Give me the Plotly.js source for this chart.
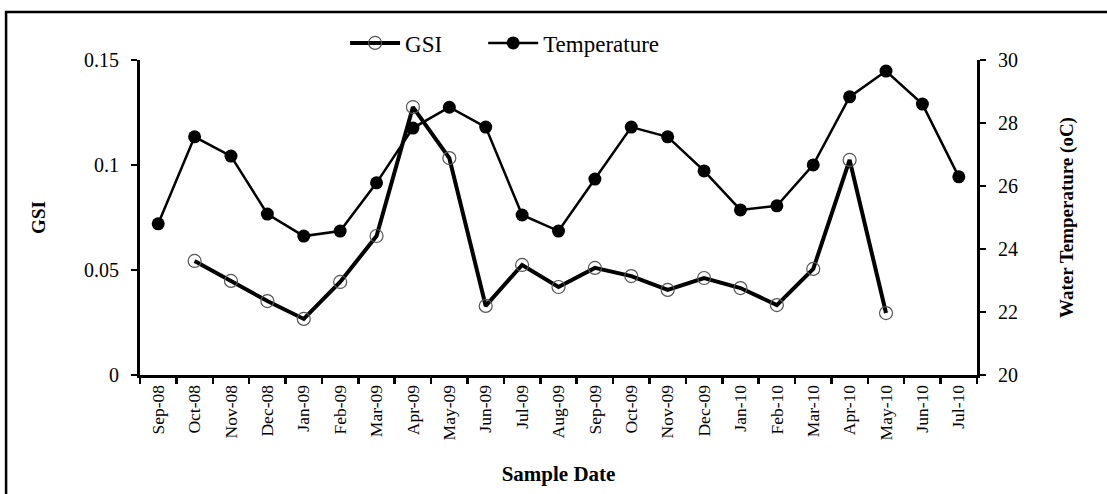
<!DOCTYPE html>
<html>
<head>
<meta charset="utf-8">
<script src="https://cdn.plot.ly/plotly-3.0.1.min.js"></script>
<style>
  html, body { margin: 0; padding: 0; background: #fff; }
  #chart { width: 1107px; height: 494px; }
</style>
</head>
<body>
<div id="chart"></div>
<script>
const months = ["Sep-08","Oct-08","Nov-08","Dec-08","Jan-09","Feb-09","Mar-09","Apr-09","May-09","Jun-09","Jul-09","Aug-09","Sep-09","Oct-09","Nov-09","Dec-09","Jan-10","Feb-10","Mar-10","Apr-10","May-10","Jun-10","Jul-10"];
const gsi = [null,0.0543,0.0448,0.0352,0.0267,0.0443,0.0662,0.1276,0.1033,0.0329,0.0524,0.0419,0.0510,0.0471,0.0405,0.0462,0.0414,0.0333,0.0505,0.1024,0.0295,null,null];
const temperature = [24.8,27.56,26.95,25.11,24.41,24.57,26.1,27.84,28.5,27.87,25.08,24.57,26.22,27.87,27.56,26.48,25.24,25.37,26.67,28.83,29.65,28.6,26.29];

const serif = "Liberation Serif";

const traces = [
  {
    name: "GSI",
    x: months, y: gsi,
    yaxis: "y2",
    legend: "legend",
    type: "scatter",
    mode: "lines+markers",
    connectgaps: false,
    line: {color: "#000", width: 4},
    marker: {symbol: "circle-open", size: 13, color: "#555", line: {width: 1.2, color: "#555"}}
  },
  {
    name: "Temperature",
    x: months, y: temperature,
    yaxis: "y",
    legend: "legend2",
    type: "scatter",
    mode: "lines+markers",
    line: {color: "#000", width: 2.5},
    marker: {symbol: "circle", size: 13, color: "#000"}
  }
];

const legendFont = {family: serif, size: 23, color: "#000"};

const layout = {
  width: 1107, height: 494,
  margin: {l: 140, r: 130, t: 60, b: 119, pad: 0},
  paper_bgcolor: "#fff", plot_bgcolor: "#fff",
  font: {family: serif, color: "#000", size: 17},
  showlegend: true,
  legend: {
    orientation: "h", x: 0.245, xanchor: "left", y: 1.054, yanchor: "middle",
    font: legendFont, bgcolor: "rgba(0,0,0,0)", itemwidth: 50
  },
  legend2: {
    orientation: "h", x: 0.41, xanchor: "left", y: 1.054, yanchor: "middle",
    font: legendFont, bgcolor: "rgba(0,0,0,0)", itemwidth: 50
  },
  xaxis: {
    type: "category",
    range: [-0.5, 22.5],
    tickson: "boundaries",
    ticks: "outside", ticklen: 6, tickwidth: 2.5, tickcolor: "#000",
    showline: true, linewidth: 3, linecolor: "#000",
    showgrid: false, zeroline: false,
    tickangle: -90,
    tickfont: {family: serif, size: 17.5, color: "#000"},
    title: {text: "<b>Sample Date</b>", font: {family: serif, size: 21, color: "#000"}, standoff: 27},
    automargin: true
  },
  yaxis: {
    side: "right",
    range: [20, 30], dtick: 2, tick0: 20,
    ticks: "outside", ticklen: 6, tickwidth: 2.5, tickcolor: "#000",
    showline: true, linewidth: 3, linecolor: "#000",
    showgrid: false, zeroline: false,
    tickfont: {family: serif, size: 20, color: "#000"},
    ticklabelstandoff: 8,
    title: {text: "<b>Water Temperature (oC)</b>", font: {family: serif, size: 19, color: "#000"}, standoff: 43},
    automargin: true
  },
  yaxis2: {
    overlaying: "y", side: "left", anchor: "x",
    range: [0, 0.15], dtick: 0.05, tick0: 0,
    ticks: "outside", ticklen: 6, tickwidth: 2.5, tickcolor: "#000",
    showline: true, linewidth: 3, linecolor: "#000",
    showgrid: false, zeroline: false,
    tickfont: {family: serif, size: 20, color: "#000"},
    ticklabelstandoff: 8,
    title: {text: "<b>GSI</b>", font: {family: serif, size: 19, color: "#000"}, standoff: 34},
    automargin: true
  },
  shapes: [{
    type: "rect", xref: "paper", yref: "paper",
    x0: -0.160, x1: 1.17, y0: -0.41, y1: 1.152,
    line: {color: "#000", width: 2.5}, fillcolor: "rgba(0,0,0,0)", layer: "above"
  }]
};

Plotly.newPlot("chart", traces, layout, {displayModeBar: false, staticPlot: true});
</script>
</body>
</html>
